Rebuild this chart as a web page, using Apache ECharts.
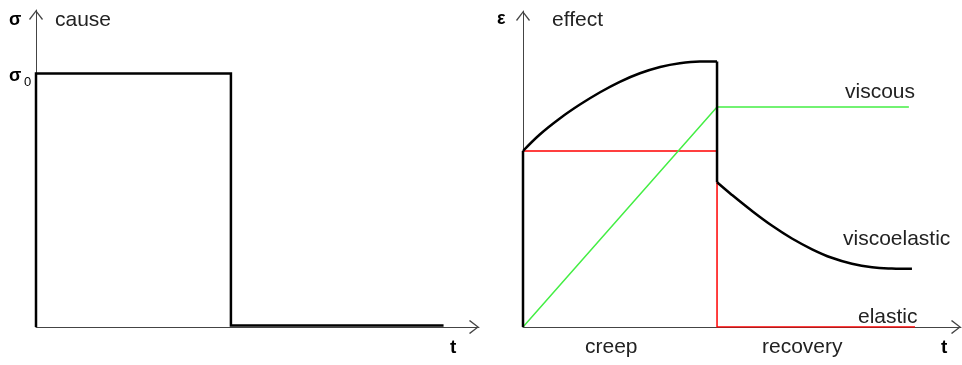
<!DOCTYPE html>
<html>
<head>
<meta charset="utf-8">
<title>cause / effect</title>
<script src="https://cdn.jsdelivr.net/npm/echarts@6/dist/echarts.min.js"></script>
<style>
  html, body { margin: 0; padding: 0; background: #fff; }
  .chart { width: 962px; height: 365px; }
</style>
</head>
<body>
<div class="chart"></div>
<script>
// 左图：应力 σ(t)，阶跃加载后卸载
var causeT = [0, 0, 44, 44, 92];
var causeS = [0, 80, 80, 0.5, 0.5];

// 右图：黏弹性应变（蠕变段 + 恢复段）
var creepT = [0, 3.9, 8.4, 13.0, 17.6, 22.1, 26.7, 31.3, 35.8, 40.4, 44.3];
var creepE = [55.7, 61.0, 66.0, 70.4, 74.3, 77.6, 80.3, 82.3, 83.5, 84.0, 84.0];
var recovT = [44.3, 47.7, 52.3, 56.8, 61.4, 66.0, 70.5, 75.1, 79.7, 84.2, 88.8];
var recovE = [45.8, 41.8, 36.7, 32.1, 28.0, 24.6, 21.9, 20.0, 18.9, 18.5, 18.4];

// 弹性应变
var elasticT = [0, 44.3, 44.3, 89.5];
var elasticE = [55.7, 55.7, 0, 0];

// 黏性应变
var viscousT = [0, 44.3, 88.1];
var viscousE = [0, 69.6, 69.6];

function pairs(xs, ys) {
  var arr = [];
  for (var i = 0; i < xs.length; i++) {
    arr.push([xs[i], ys[i]]);
  }
  return arr;
}

var FONT = "'Liberation Sans', Arial, sans-serif";
var AXIS_COLOR = '#444';
// 开口箭头（朝上），由坐标轴自动旋转
var CHEVRON = 'path://M0,9 L7,0 L14,9 L13,10 L7,2 L1,10 Z';

function axisLine() {
  return {
    show: true,
    onZero: false,
    symbol: ['none', CHEVRON],
    symbolSize: [14, 10],
    symbolOffset: [0, -5],
    lineStyle: { color: AXIS_COLOR, width: 1 }
  };
}

function valueAxis(gridIndex) {
  return {
    type: 'value',
    gridIndex: gridIndex,
    min: 0,
    max: 100,
    axisLine: axisLine(),
    axisTick: { show: false },
    axisLabel: { show: false },
    splitLine: { show: false }
  };
}

function lineSeries(name, xi, data, color, width, smooth, z) {
  return {
    name: name,
    type: 'line',
    xAxisIndex: xi,
    yAxisIndex: xi,
    data: data,
    symbol: 'none',
    smooth: smooth,
    animation: false,
    z: z,
    lineStyle: { color: color, width: width, join: 'miter', cap: 'butt' }
  };
}

function label(text, x, y, size, weight, color) {
  return {
    type: 'text',
    x: x,
    y: y,
    style: {
      text: text,
      font: (weight || 'normal') + ' ' + size + 'px ' + FONT,
      fill: color || '#222',
      verticalAlign: 'middle'
    }
  };
}

var myChart = echarts.init(document.querySelector('.chart'));

var option = {
  backgroundColor: '#fff',
  animation: false,
  grid: [
    { left: 36, top: 10, width: 443, height: 317 },
    { left: 523, top: 11, width: 438, height: 316 }
  ],
  xAxis: [valueAxis(0), valueAxis(1)],
  yAxis: [valueAxis(0), valueAxis(1)],
  series: [
    lineSeries('cause', 0, pairs(causeT, causeS), '#000', 2.5, false, 3),
    lineSeries('elastic', 1, pairs(elasticT, elasticE), '#f00', 1.5, false, 2),
    lineSeries('viscous', 1, pairs(viscousT, viscousE), '#44ee44', 1.5, false, 2),
    lineSeries('jump load', 1, [[creepT[0], 0], [creepT[0], creepE[0]]], '#000', 2.5, false, 3),
    lineSeries('creep', 1, pairs(creepT, creepE), '#000', 2.5, 0.4, 3),
    lineSeries('jump unload', 1, [[creepT[creepT.length - 1], creepE[creepE.length - 1]], [recovT[0], recovE[0]]], '#000', 2.5, false, 3),
    lineSeries('recovery', 1, pairs(recovT, recovE), '#000', 2.5, 0.4, 3)
  ],
  graphic: [
    label('σ', 9, 20, 18, 'bold', '#000'),
    label('cause', 55, 20, 21),
    label('σ', 9, 76, 18, 'bold', '#000'),
    label('0', 24, 82, 13, 'normal', '#000'),
    label('t', 450, 348, 19, 'bold', '#000'),
    label('ε', 497, 19, 18, 'bold', '#000'),
    label('effect', 552, 20, 21),
    label('viscous', 845, 92, 21),
    label('viscoelastic', 843, 239, 21),
    label('elastic', 858, 317, 21),
    label('creep', 585, 347, 21),
    label('recovery', 762, 347, 21),
    label('t', 941, 348, 19, 'bold', '#000')
  ]
};

myChart.setOption(option);
window.addEventListener('resize', function () {
  myChart.resize();
});
</script>
</body>
</html>
